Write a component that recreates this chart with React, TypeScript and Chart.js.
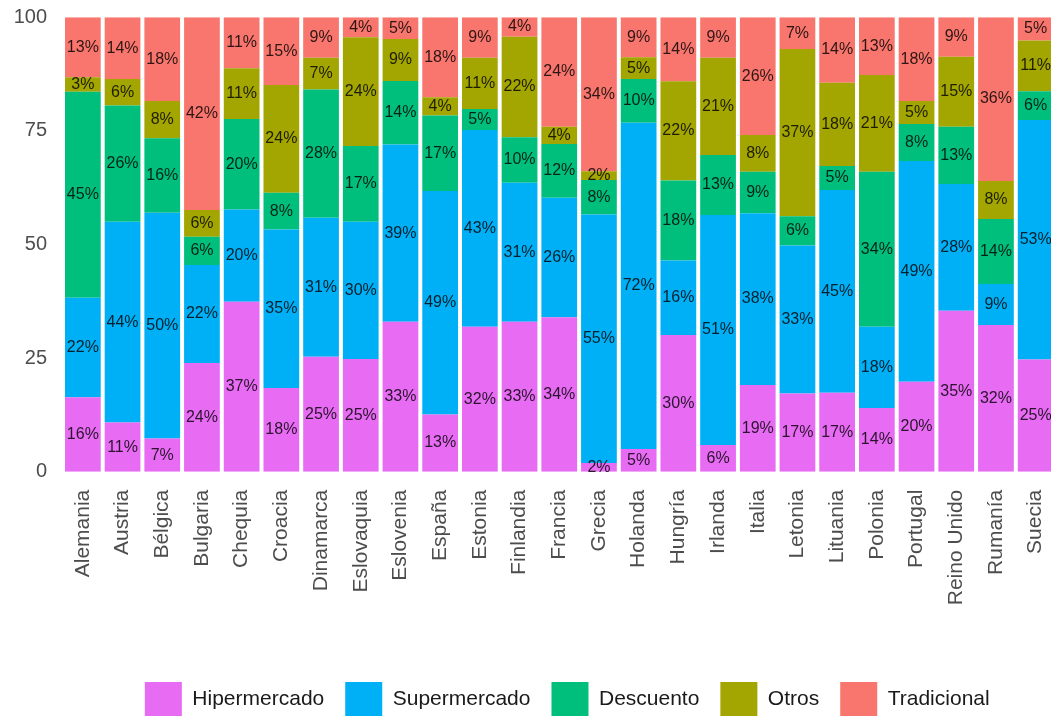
import React, { useEffect, useRef } from "react";
import { Chart, registerables } from "chart.js";

Chart.register(...registerables);

const categories = [
  "Alemania", "Austria", "Bélgica", "Bulgaria", "Chequia", "Croacia", "Dinamarca",
  "Eslovaquia", "Eslovenia", "España", "Estonia", "Finlandia", "Francia", "Grecia",
  "Holanda", "Hungría", "Irlanda", "Italia", "Letonia", "Lituania", "Polonia",
  "Portugal", "Reino Unido", "Rumanía", "Suecia",
];

const seriesNames = ["Hipermercado", "Supermercado", "Descuento", "Otros", "Tradicional"];
const seriesColors = ["#E76BF3", "#00B0F6", "#00BF7D", "#A3A500", "#F8766D"];

const hipermercado = [16.4, 10.8, 7.3, 23.9, 37.4, 18.4, 25.3, 24.8, 33.0, 12.6, 31.9, 33.0, 34.0, 1.9, 5.0, 30.1, 5.9, 19.1, 17.2, 17.4, 14.0, 19.8, 35.4, 32.3, 24.7];
const supermercado = [21.9, 44.2, 49.7, 21.6, 20.3, 34.9, 30.6, 30.2, 39.0, 49.2, 43.3, 30.6, 26.3, 54.7, 71.8, 16.4, 50.6, 37.8, 32.6, 44.6, 17.9, 48.6, 27.9, 9.0, 52.7];
const descuento = [45.3, 25.6, 16.4, 6.2, 19.9, 8.1, 28.2, 16.7, 14.0, 16.6, 4.6, 10.0, 11.8, 7.6, 9.6, 17.6, 13.2, 9.1, 6.4, 5.3, 34.1, 8.1, 12.6, 14.3, 6.3];
const otros = [3.2, 5.8, 8.2, 5.9, 11.2, 23.7, 7.0, 23.9, 9.2, 4.0, 11.3, 22.1, 3.8, 1.9, 4.8, 21.8, 21.4, 8.1, 36.8, 18.3, 21.3, 5.1, 15.4, 8.4, 11.2];
const tradicional = [13.2, 13.6, 18.4, 42.4, 11.2, 14.9, 8.9, 4.4, 4.8, 17.6, 8.9, 4.3, 24.1, 33.9, 8.8, 14.1, 8.9, 25.9, 7.0, 14.4, 12.7, 18.4, 8.7, 36.0, 5.1];

const yTicks = [0, 25, 50, 75, 100];

const FONT = "'Liberation Sans', Arial, Helvetica, sans-serif";

const segmentLabels = {
  id: "segmentLabels",
  afterDatasetsDraw(chart: any) {
    const ctx = chart.ctx;
    ctx.save();
    ctx.font = `16px ${FONT}`;
    ctx.fillStyle = "rgba(0,0,0,0.82)";
    ctx.textAlign = "center";
    ctx.textBaseline = "middle";
    chart.data.datasets.forEach((ds: any, di: number) => {
      const meta = chart.getDatasetMeta(di);
      meta.data.forEach((el: any, i: number) => {
        const v = ds.data[i] as number;
        const p = el.getProps(["x", "y", "base"], true);
        ctx.fillText(Math.round(v) + "%", p.x, (p.y + p.base) / 2);
      });
    });
    ctx.restore();
  },
};

// centre the legend on the same point as the reference figure
const legendShift = {
  id: "legendShift",
  afterLayout(chart: any) {
    if (chart.legend) {
      chart.legend.left += 8;
      chart.legend.right += 8;
    }
  },
};

export default function App() {
  const canvasRef = useRef<HTMLCanvasElement | null>(null);

  useEffect(() => {
    if (!canvasRef.current) return;
    Chart.defaults.font.family = FONT;
    const values = [hipermercado, supermercado, descuento, otros, tradicional];
    const chart = new Chart(canvasRef.current, {
      type: "bar",
      data: {
        labels: categories,
        datasets: seriesNames.map((name, k) => ({
          label: name,
          data: values[k],
          backgroundColor: seriesColors[k],
          borderWidth: 0,
          barPercentage: 0.9,
          categoryPercentage: 1.0,
        })),
      },
      options: {
        responsive: false,
        animation: false,
        layout: { padding: { left: 0, top: 17.3, right: 78.5, bottom: 0 } },
        plugins: {
          legend: {
            position: "bottom",
            fullSize: false,
            labels: {
              boxWidth: 37,
              boxHeight: 35,
              padding: 21,
              color: "#1a1a1a",
              font: { size: 21, family: FONT },
            },
          },
          tooltip: { enabled: false },
        },
        scales: {
          x: {
            stacked: true,
            grid: { display: false, drawTicks: false },
            border: { display: false },
            ticks: {
              autoSkip: false,
              minRotation: 90,
              maxRotation: 90,
              padding: 18,
              color: "#4d4d4d",
              font: { size: 21, family: FONT },
            },
            afterFit: (s: any) => {
              s.height = 189.3;
            },
          },
          y: {
            stacked: true,
            min: 0,
            max: 100,
            grid: { display: false, drawTicks: false },
            border: { display: false },
            afterBuildTicks: (s: any) => {
              s.ticks = yTicks.map((v) => ({ value: v }));
            },
            ticks: {
              padding: 16,
              color: "#4d4d4d",
              font: { size: 20, family: FONT },
            },
            afterFit: (s: any) => {
              s.width = 63;
              s.paddingTop = 10;
              s.paddingBottom = 10;
            },
          },
        },
      },
      plugins: [segmentLabels, legendShift],
    });
    return () => chart.destroy();
  }, []);

  return (
    <div
      style={{
        position: "fixed",
        left: 0,
        top: 0,
        width: 1051,
        height: 716,
        overflow: "hidden",
        background: "#ffffff",
      }}
    >
      <canvas
        ref={canvasRef}
        width={1134}
        height={727}
        style={{ position: "absolute", left: 0, top: 0, width: 1134, height: 727 }}
      />
    </div>
  );
}
